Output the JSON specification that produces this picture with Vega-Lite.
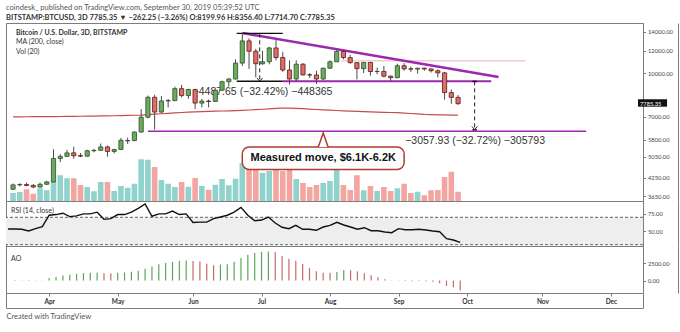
{
  "$schema": "https://vega.github.io/schema/vega-lite/v6.json",
  "padding": {"left": 4, "top": 4, "right": 0, "bottom": 0},
  "autosize": {"type": "pad"},
  "background": "white",
  "title": {
    "text": "coindesk_ published on TradingView.com, September 30, 2019 05:39:52 UTC",
    "subtitle": "BITSTAMP:BTCUSD, 3D  7785.35 ▼ −262.25 (−3.26%)  O:8199.96 H:8356.40 L:7714.70 C:7785.35",
    "anchor": "start", "frame": "group",
    "font": "Lato", "fontSize": 7.5, "fontWeight": "normal", "color": "#555",
    "subtitleFont": "Lato", "subtitleFontSize": 7.5, "subtitleFontWeight": "bold", "subtitleColor": "#333",
    "subtitlePadding": 2.5, "offset": 1
  },
  "datasets": {
    "bars": [
      {"d":"2019-03-14","o":3866,"h":4050,"l":3840,"c":4006,"v":32,"rsi":53,"ao":30,"ma":6990},
      {"d":"2019-03-17","o":4006,"h":4060,"l":3960,"c":4016,"v":36,"rsi":53,"ao":-40,"ma":6993},
      {"d":"2019-03-20","o":4016,"h":4080,"l":3960,"c":3988,"v":47,"rsi":52.5,"ao":-30,"ma":6996},
      {"d":"2019-03-23","o":3988,"h":4030,"l":3900,"c":3936,"v":29,"rsi":50,"ao":-50,"ma":6999},
      {"d":"2019-03-26","o":3936,"h":4080,"l":3920,"c":4027,"v":51,"rsi":53.5,"ao":-40,"ma":7002},
      {"d":"2019-03-29","o":4027,"h":4140,"l":4000,"c":4105,"v":43,"rsi":56.5,"ao":60,"ma":7004},
      {"d":"2019-04-01","o":4105,"h":5360,"l":4090,"c":4973,"v":80,"rsi":73,"ao":353,"ma":7006},
      {"d":"2019-04-04","o":4973,"h":5150,"l":4830,"c":5059,"v":103,"rsi":74,"ao":494,"ma":7010},
      {"d":"2019-04-07","o":5059,"h":5340,"l":5040,"c":5206,"v":91,"rsi":76,"ao":730,"ma":7015},
      {"d":"2019-04-10","o":5206,"h":5470,"l":4960,"c":5089,"v":91,"rsi":71,"ao":824,"ma":7020},
      {"d":"2019-04-13","o":5089,"h":5200,"l":5030,"c":5067,"v":64,"rsi":72,"ao":965,"ma":7025},
      {"d":"2019-04-16","o":5067,"h":5340,"l":5050,"c":5298,"v":56,"rsi":75,"ao":1059,"ma":7030},
      {"d":"2019-04-19","o":5298,"h":5380,"l":5230,"c":5314,"v":39,"rsi":75,"ao":1106,"ma":7036},
      {"d":"2019-04-22","o":5314,"h":5620,"l":5300,"c":5464,"v":76,"rsi":77.5,"ao":1120,"ma":7042},
      {"d":"2019-04-25","o":5464,"h":5530,"l":5050,"c":5268,"v":76,"rsi":67,"ao":1059,"ma":7048},
      {"d":"2019-04-28","o":5268,"h":5380,"l":5180,"c":5350,"v":40,"rsi":68,"ao":1012,"ma":7054},
      {"d":"2019-05-01","o":5350,"h":5880,"l":5330,"c":5769,"v":60,"rsi":74,"ao":1106,"ma":7060},
      {"d":"2019-05-04","o":5740,"h":5900,"l":5600,"c":5760,"v":53,"rsi":74,"ao":1153,"ma":7072},
      {"d":"2019-05-07","o":5760,"h":6200,"l":5720,"c":6174,"v":69,"rsi":77.5,"ao":1247,"ma":7084},
      {"d":"2019-05-10","o":6174,"h":7450,"l":6150,"c":6972,"v":167,"rsi":83,"ao":1388,"ma":7096},
      {"d":"2019-05-13","o":6972,"h":8320,"l":6900,"c":8205,"v":165,"rsi":89.5,"ao":1671,"ma":7120},
      {"d":"2019-05-16","o":8205,"h":8380,"l":6300,"c":7271,"v":136,"rsi":71.5,"ao":2000,"ma":7145},
      {"d":"2019-05-19","o":7271,"h":8300,"l":7200,"c":7963,"v":84,"rsi":75,"ao":2330,"ma":7170},
      {"d":"2019-05-22","o":7963,"h":8100,"l":7550,"c":7987,"v":69,"rsi":75,"ao":2518,"ma":7195},
      {"d":"2019-05-25","o":7987,"h":8950,"l":7950,"c":8805,"v":56,"rsi":79,"ao":2660,"ma":7220},
      {"d":"2019-05-28","o":8805,"h":9080,"l":8200,"c":8319,"v":76,"rsi":74,"ao":2800,"ma":7245},
      {"d":"2019-05-31","o":8319,"h":8800,"l":8100,"c":8742,"v":57,"rsi":75,"ao":2848,"ma":7265},
      {"d":"2019-06-03","o":8742,"h":8800,"l":7450,"c":7824,"v":92,"rsi":62.5,"ao":2800,"ma":7285},
      {"d":"2019-06-06","o":7824,"h":8100,"l":7550,"c":7954,"v":60,"rsi":63,"ao":2707,"ma":7300},
      {"d":"2019-06-09","o":7954,"h":8050,"l":7550,"c":7927,"v":45,"rsi":63,"ao":2377,"ma":7315},
      {"d":"2019-06-12","o":7927,"h":8700,"l":7900,"c":8693,"v":65,"rsi":68,"ao":2189,"ma":7325},
      {"d":"2019-06-15","o":8693,"h":9400,"l":8650,"c":9320,"v":88,"rsi":70.5,"ao":2283,"ma":7335},
      {"d":"2019-06-18","o":9320,"h":9600,"l":8950,"c":9527,"v":63,"rsi":73,"ao":2330,"ma":7345},
      {"d":"2019-06-21","o":9527,"h":11200,"l":9500,"c":10855,"v":89,"rsi":77.5,"ao":2680,"ma":7360},
      {"d":"2019-06-24","o":10855,"h":13880,"l":10600,"c":13016,"v":152,"rsi":84.5,"ao":3200,"ma":7375},
      {"d":"2019-06-27","o":13016,"h":13300,"l":10350,"c":11959,"v":180,"rsi":73,"ao":3672,"ma":7395},
      {"d":"2019-06-30","o":11959,"h":12200,"l":9650,"c":10801,"v":160,"rsi":65,"ao":3908,"ma":7415},
      {"d":"2019-07-03","o":10801,"h":12000,"l":10700,"c":10978,"v":113,"rsi":66,"ao":4100,"ma":7440},
      {"d":"2019-07-06","o":10978,"h":12400,"l":10750,"c":12285,"v":120,"rsi":70.4,"ao":4150,"ma":7465},
      {"d":"2019-07-09","o":12285,"h":13180,"l":11100,"c":11358,"v":160,"rsi":61.7,"ao":4050,"ma":7490},
      {"d":"2019-07-12","o":11358,"h":11900,"l":10100,"c":10256,"v":120,"rsi":55.4,"ao":3484,"ma":7505},
      {"d":"2019-07-15","o":10256,"h":11100,"l":9100,"c":9531,"v":152,"rsi":53.4,"ao":3107,"ma":7505},
      {"d":"2019-07-18","o":9531,"h":11100,"l":9300,"c":10758,"v":88,"rsi":58.3,"ao":2825,"ma":7495},
      {"d":"2019-07-21","o":10758,"h":10850,"l":9800,"c":9855,"v":72,"rsi":52.5,"ao":2354,"ma":7475},
      {"d":"2019-07-24","o":9855,"h":10000,"l":9600,"c":9847,"v":56,"rsi":52.5,"ao":1789,"ma":7450},
      {"d":"2019-07-27","o":9847,"h":10200,"l":9150,"c":9529,"v":64,"rsi":51,"ao":1318,"ma":7425},
      {"d":"2019-07-30","o":9529,"h":10450,"l":9450,"c":10410,"v":72,"rsi":55.8,"ao":1130,"ma":7405},
      {"d":"2019-08-02","o":10410,"h":11100,"l":10350,"c":10971,"v":80,"rsi":58.3,"ao":1100,"ma":7385},
      {"d":"2019-08-05","o":10971,"h":12180,"l":10950,"c":11941,"v":136,"rsi":62.7,"ao":1224,"ma":7365},
      {"d":"2019-08-08","o":11941,"h":12050,"l":11200,"c":11354,"v":64,"rsi":58.8,"ao":1507,"ma":7345},
      {"d":"2019-08-11","o":11354,"h":11600,"l":10800,"c":10895,"v":44,"rsi":55.8,"ao":1480,"ma":7330},
      {"d":"2019-08-14","o":10895,"h":10950,"l":9500,"c":10374,"v":103,"rsi":52.5,"ao":1318,"ma":7315},
      {"d":"2019-08-17","o":10374,"h":10950,"l":10000,"c":10916,"v":43,"rsi":54.8,"ao":1036,"ma":7300},
      {"d":"2019-08-20","o":10916,"h":10950,"l":9800,"c":10131,"v":60,"rsi":50.4,"ao":753,"ma":7285},
      {"d":"2019-08-23","o":10131,"h":10450,"l":9900,"c":10138,"v":40,"rsi":50.4,"ao":471,"ma":7270},
      {"d":"2019-08-26","o":10138,"h":10600,"l":9650,"c":9754,"v":56,"rsi":48.5,"ao":188,"ma":7255},
      {"d":"2019-08-29","o":9754,"h":9800,"l":9350,"c":9630,"v":40,"rsi":47.5,"ao":40,"ma":7245},
      {"d":"2019-09-01","o":9630,"h":10800,"l":9600,"c":10623,"v":51,"rsi":53.4,"ao":-40,"ma":7235},
      {"d":"2019-09-04","o":10623,"h":10850,"l":10200,"c":10353,"v":69,"rsi":51.9,"ao":-60,"ma":7210},
      {"d":"2019-09-07","o":10353,"h":10550,"l":10100,"c":10334,"v":32,"rsi":51.9,"ao":-80,"ma":7185},
      {"d":"2019-09-10","o":10334,"h":10450,"l":9950,"c":10410,"v":37,"rsi":52.5,"ao":-70,"ma":7160},
      {"d":"2019-09-13","o":10410,"h":10450,"l":10200,"c":10347,"v":23,"rsi":51.5,"ao":-90,"ma":7130},
      {"d":"2019-09-16","o":10347,"h":10380,"l":10050,"c":10198,"v":43,"rsi":50,"ao":-150,"ma":7118},
      {"d":"2019-09-19","o":10198,"h":10300,"l":9650,"c":10019,"v":44,"rsi":49,"ao":-377,"ma":7108},
      {"d":"2019-09-22","o":10019,"h":10100,"l":8050,"c":8530,"v":96,"rsi":38.8,"ao":-753,"ma":7100},
      {"d":"2019-09-25","o":8530,"h":8750,"l":7780,"c":8200,"v":117,"rsi":36.9,"ao":-942,"ma":7095},
      {"d":"2019-09-28","o":8199.96,"h":8356.4,"l":7714.7,"c":7785.35,"v":37,"rsi":33.5,"ao":-1412,"ma":7090}
    ],
    "trend": [{"d1":"2019-06-24","d2":"2019-10-16","p1":13880,"p2":9690}],
    "support": [{"d1":"2019-07-12","d2":"2019-10-12T18:00:00Z","p1":9354,"p2":9354}],
    "target": [{"d1":"2019-05-13","d2":"2019-11-24","p1":6210,"p2":6210}],
    "faint": [{"d1":"2019-08-07","d2":"2019-10-28","p1":11060,"p2":11060}],
    "blk": [
      {"d1":"2019-06-21T12:00:00Z","d2":"2019-07-12","p1":13842,"p2":13842},
      {"d1":"2019-06-21T12:00:00Z","d2":"2019-07-12","p1":9354,"p2":9354},
      {"d1":"2019-10-04T09:00:00Z","d2":"2019-10-06T09:00:00Z","p1":9345,"p2":9345},
      {"d1":"2019-10-04T09:00:00Z","d2":"2019-10-06T09:00:00Z","p1":6287,"p2":6287}
    ],
    "dash": [
      {"d":"2019-07-01T18:00:00Z","p1":13842,"p2":9354},
      {"d":"2019-10-05T09:00:00Z","p1":9345,"p2":6287}
    ],
    "arrows": [
      {"d":"2019-07-01T18:00:00Z","p":9480},
      {"d":"2019-10-05T09:00:00Z","p":6380}
    ],
    "rtext1": [{"d":"2019-07-03","p":8546,"t":"−4487.65 (−32.42%) −448365"}],
    "rtext2": [{"d":"2019-10-05T14:00:00Z","p":5724,"t":"−3057.93 (−32.72%) −305793"}],
    "callout": [{"d1":"2019-06-24","d2":"2019-09-04","p1":5462,"p2":4539,"dc":"2019-07-30","pt":5786,"pc":4982,"t":"Measured move, $6.1K-6.2K"}],
    "legend1": [{"d":"2019-03-15T07:00:00Z","p":13920,"t":"Bitcoin / U.S. Dollar, 3D, BITSTAMP"}],
    "legend2": [{"d":"2019-03-15T07:00:00Z","p":12870,"t":"MA (200, close)"},{"d":"2019-03-15T07:00:00Z","p":11890,"t":"Vol (20)"}],
    "tag": [{"d1":"2019-12-17T01:30:00Z","d2":"2019-12-30","p1":8073,"p2":7598,"dt":"2019-12-17T22:00:00Z","p":7785.35,"t":"7785.35"}]
  },
  "spacing": 0,
  "bounds": "flush",
  "resolve": {"scale": {"y": "independent"}},
  "vconcat": [
    {
      "width": 637, "height": 178,
      "layer": [
        {
          "data": {"name": "bars"},
          "mark": {"type": "bar", "size": 5.6},
          "encoding": {
            "x": {"field": "d", "type": "temporal", "scale": {"type": "utc", "domain": [{"year":2019,"month":3,"date":13,"hours":2,"utc":true},{"year":2019,"month":12,"date":17,"hours":1,"minutes":30,"utc":true}]}, "axis": null},
            "y": {"field": "v", "type": "quantitative", "scale": {"domain": [0, 712]}, "axis": {"orient": "right", "offset": 35, "labels": false, "ticks": false, "domain": true, "domainColor": "#7d7d7d", "grid": false, "title": null}},
            "color": {"condition": {"test": "datum.c >= datum.o", "value": "#8fd3cc"}, "value": "#f3a5a1"}
          }
        },
        {
          "layer": [
            {
              "data": {"name": "bars"},
              "mark": {"type": "line", "color": "#c94c4c", "strokeWidth": 1.2},
              "encoding": {
                "x": {"field": "d", "type": "temporal", "scale": {"type": "utc", "domain": [{"year":2019,"month":3,"date":13,"hours":2,"utc":true},{"year":2019,"month":12,"date":17,"hours":1,"minutes":30,"utc":true}]}, "axis": null},
                "y": {"field": "ma", "type": "quantitative", "scale": {"type": "log", "domain": [3511, 15070]},
                  "axis": {"orient": "right", "values": [3650, 4250, 5050, 5800, 7000, 10000, 12000, 14000], "format": ".2f", "tickSize": 2.5, "labelPadding": 2, "labelFontSize": 5.8, "labelFont": "Lato", "labelColor": "#444", "labelOverlap": false, "labelFlush": false, "title": null, "grid": false, "domainColor": "#7d7d7d", "tickColor": "#777"}}
              }
            },
            {
              "data": {"name": "faint"},
              "mark": {"type": "rule", "color": "#f6cccc", "strokeWidth": 1.5},
              "encoding": {
                "x": {"field": "d1", "type": "temporal"}, "x2": {"field": "d2"},
                "y": {"field": "p1", "type": "quantitative", "scale": {"type": "log", "domain": [3511, 15070]}}, "y2": {"field": "p2"}
              }
            },
            {
              "data": {"name": "target"},
              "mark": {"type": "rule", "color": "#9c27b0", "strokeWidth": 1.4},
              "encoding": {
                "x": {"field": "d1", "type": "temporal"}, "x2": {"field": "d2"},
                "y": {"field": "p1", "type": "quantitative", "scale": {"type": "log", "domain": [3511, 15070]}}, "y2": {"field": "p2"}
              }
            },
            {
              "data": {"name": "support"},
              "mark": {"type": "rule", "color": "#9c27b0", "strokeWidth": 2.2},
              "encoding": {
                "x": {"field": "d1", "type": "temporal"}, "x2": {"field": "d2"},
                "y": {"field": "p1", "type": "quantitative", "scale": {"type": "log", "domain": [3511, 15070]}}, "y2": {"field": "p2"}
              }
            },
            {
              "data": {"name": "trend"},
              "mark": {"type": "rule", "color": "#9c27b0", "strokeWidth": 2.6},
              "encoding": {
                "x": {"field": "d1", "type": "temporal"}, "x2": {"field": "d2"},
                "y": {"field": "p1", "type": "quantitative", "scale": {"type": "log", "domain": [3511, 15070]}}, "y2": {"field": "p2"}
              }
            },
            {
              "data": {"name": "blk"},
              "mark": {"type": "rule", "color": "#111", "strokeWidth": 1.4},
              "encoding": {
                "x": {"field": "d1", "type": "temporal"}, "x2": {"field": "d2"},
                "y": {"field": "p1", "type": "quantitative", "scale": {"type": "log", "domain": [3511, 15070]}}, "y2": {"field": "p2"}
              }
            },
            {
              "data": {"name": "dash"},
              "mark": {"type": "rule", "color": "#222", "strokeWidth": 1, "strokeDash": [4, 3]},
              "encoding": {
                "x": {"field": "d", "type": "temporal"},
                "y": {"field": "p1", "type": "quantitative", "scale": {"type": "log", "domain": [3511, 15070]}}, "y2": {"field": "p2"}
              }
            },
            {
              "data": {"name": "arrows"},
              "mark": {"type": "point", "shape": "M-1,-0.6L0,0.6L1,-0.6", "filled": false, "stroke": "#222", "strokeWidth": 1, "size": 30, "opacity": 1},
              "encoding": {
                "x": {"field": "d", "type": "temporal"},
                "y": {"field": "p", "type": "quantitative", "scale": {"type": "log", "domain": [3511, 15070]}}
              }
            },
            {
              "data": {"name": "rtext1"},
              "mark": {"type": "text", "font": "Liberation Sans", "fontSize": 10.5, "color": "#333", "align": "center", "baseline": "middle"},
              "encoding": {
                "x": {"field": "d", "type": "temporal"},
                "y": {"field": "p", "type": "quantitative", "scale": {"type": "log", "domain": [3511, 15070]}},
                "text": {"field": "t"}
              }
            },
            {
              "data": {"name": "bars"},
              "mark": {"type": "rule", "color": "#4a4a4a", "strokeWidth": 1},
              "encoding": {
                "x": {"field": "d", "type": "temporal"},
                "y": {"field": "l", "type": "quantitative", "scale": {"type": "log", "domain": [3511, 15070]}}, "y2": {"field": "h"}
              }
            },
            {
              "data": {"name": "bars"},
              "mark": {"type": "bar", "size": 4.2, "strokeWidth": 0.8},
              "encoding": {
                "x": {"field": "d", "type": "temporal"},
                "y": {"field": "o", "type": "quantitative", "scale": {"type": "log", "domain": [3511, 15070]}}, "y2": {"field": "c"},
                "fill": {"condition": {"test": "datum.c >= datum.o", "value": "#6aab5e"}, "value": "#e06c6c"},
                "stroke": {"condition": {"test": "datum.c >= datum.o", "value": "#2d4f2a"}, "value": "#5b1a13"}
              }
            },
            {
              "data": {"name": "rtext2"},
              "mark": {"type": "text", "font": "Liberation Sans", "fontSize": 10.5, "color": "#333", "align": "center", "baseline": "middle"},
              "encoding": {
                "x": {"field": "d", "type": "temporal"},
                "y": {"field": "p", "type": "quantitative", "scale": {"type": "log", "domain": [3511, 15070]}},
                "text": {"field": "t"}
              }
            },
            {
              "data": {"name": "legend1"},
              "mark": {"type": "text", "font": "Lato", "fontSize": 7, "fontWeight": "bold", "color": "#333", "align": "left", "baseline": "middle"},
              "encoding": {
                "x": {"field": "d", "type": "temporal"},
                "y": {"field": "p", "type": "quantitative", "scale": {"type": "log", "domain": [3511, 15070]}},
                "text": {"field": "t"}
              }
            },
            {
              "data": {"name": "legend2"},
              "mark": {"type": "text", "font": "Lato", "fontSize": 7, "color": "#333", "align": "left", "baseline": "middle"},
              "encoding": {
                "x": {"field": "d", "type": "temporal"},
                "y": {"field": "p", "type": "quantitative", "scale": {"type": "log", "domain": [3511, 15070]}},
                "text": {"field": "t"}
              }
            },
            {
              "data": {"name": "callout"},
              "mark": {"type": "rect", "fill": "white", "stroke": "#b03a2e", "strokeWidth": 1.5, "cornerRadius": 7},
              "encoding": {
                "x": {"field": "d1", "type": "temporal"}, "x2": {"field": "d2"},
                "y": {"field": "p1", "type": "quantitative", "scale": {"type": "log", "domain": [3511, 15070]}}, "y2": {"field": "p2"}
              }
            },
            {
              "data": {"name": "callout"},
              "mark": {"type": "point", "shape": "M-0.7,1L0,-1L0.7,1", "filled": true, "fill": "white", "stroke": "#b03a2e", "strokeWidth": 1.5, "size": 196, "opacity": 1},
              "encoding": {
                "x": {"field": "dc", "type": "temporal"},
                "y": {"field": "pt", "type": "quantitative", "scale": {"type": "log", "domain": [3511, 15070]}}
              }
            },
            {
              "data": {"name": "callout"},
              "mark": {"type": "text", "font": "Liberation Sans", "fontSize": 11, "fontWeight": "bold", "color": "#111", "align": "center", "baseline": "middle"},
              "encoding": {
                "x": {"field": "dc", "type": "temporal"},
                "y": {"field": "pc", "type": "quantitative", "scale": {"type": "log", "domain": [3511, 15070]}},
                "text": {"field": "t"}
              }
            },
            {
              "data": {"name": "tag"},
              "mark": {"type": "rect", "fill": "#111"},
              "encoding": {
                "x": {"field": "d1", "type": "temporal"}, "x2": {"field": "d2"},
                "y": {"field": "p1", "type": "quantitative", "scale": {"type": "log", "domain": [3511, 15070]}}, "y2": {"field": "p2"}
              }
            },
            {
              "data": {"name": "tag"},
              "mark": {"type": "text", "font": "Lato", "fontSize": 5.8, "color": "white", "align": "left", "baseline": "middle"},
              "encoding": {
                "x": {"field": "dt", "type": "temporal"},
                "y": {"field": "p", "type": "quantitative", "scale": {"type": "log", "domain": [3511, 15070]}},
                "text": {"field": "t"}
              }
            }
          ]
        }
      ],
      "resolve": {"scale": {"y": "independent"}}
    },
    {
      "width": 637, "height": 45,
      "layer": [
        {
          "data": {"values": [{"lo": 30, "hi": 70}]},
          "mark": {"type": "rect", "fill": "#eeeeee"},
          "encoding": {
            "x": {"datum": {"year":2019,"month":3,"date":13,"hours":2,"utc":true}, "type": "temporal", "scale": {"type": "utc", "domain": [{"year":2019,"month":3,"date":13,"hours":2,"utc":true},{"year":2019,"month":12,"date":17,"hours":1,"minutes":30,"utc":true}]}, "axis": null},
            "x2": {"datum": {"year":2019,"month":12,"date":17,"hours":1,"minutes":30,"utc":true}},
            "y": {"field": "lo", "type": "quantitative", "scale": {"domain": [28.1, 93.8]}, "axis": {"orient": "right", "offset": 35, "labels": false, "ticks": false, "domain": true, "domainColor": "#7d7d7d", "grid": false, "title": null}},
            "y2": {"field": "hi"}
          }
        },
        {
          "layer": [
            {
              "data": {"values": [{"lv": 70}, {"lv": 30}]},
              "mark": {"type": "rule", "color": "#666", "strokeWidth": 1, "strokeDash": [3, 2]},
              "encoding": {
                "y": {"field": "lv", "type": "quantitative", "scale": {"domain": [28.1, 93.8]},
                  "axis": {"orient": "right", "values": [50, 75], "format": ".2f", "tickSize": 2.5, "labelPadding": 2, "labelFontSize": 5.8, "labelFont": "Lato", "labelColor": "#444", "labelOverlap": false, "title": null, "grid": false, "domainColor": "#7d7d7d", "tickColor": "#777"}}
              }
            },
            {
              "data": {"name": "bars"},
              "mark": {"type": "line", "color": "#111", "strokeWidth": 1.4},
              "encoding": {
                "x": {"field": "d", "type": "temporal", "scale": {"type": "utc", "domain": [{"year":2019,"month":3,"date":13,"hours":2,"utc":true},{"year":2019,"month":12,"date":17,"hours":1,"minutes":30,"utc":true}]}, "axis": null},
                "y": {"field": "rsi", "type": "quantitative", "scale": {"domain": [28.1, 93.8]}}
              }
            },
            {
              "data": {"values": [{"d": "2019-03-15T07:00:00Z", "v": 78.8, "t": "RSI (14, close)"}]},
              "mark": {"type": "text", "font": "Lato", "fontSize": 7, "color": "#333", "align": "left", "baseline": "middle"},
              "encoding": {
                "x": {"field": "d", "type": "temporal", "axis": null},
                "y": {"field": "v", "type": "quantitative", "scale": {"domain": [28.1, 93.8]}},
                "text": {"field": "t"}
              }
            }
          ]
        }
      ],
      "resolve": {"scale": {"y": "independent"}}
    },
    {
      "width": 637, "height": 47,
      "layer": [
        {
          "data": {"values": [{"d": "2019-03-15T07:00:00Z", "v": 3068, "t": "AO"}]},
          "mark": {"type": "text", "font": "Lato", "fontSize": 7, "color": "#333", "align": "left", "baseline": "middle"},
          "encoding": {
            "x": {"field": "d", "type": "temporal", "scale": {"type": "utc", "domain": [{"year":2019,"month":3,"date":13,"hours":2,"utc":true},{"year":2019,"month":12,"date":17,"hours":1,"minutes":30,"utc":true}]}},
            "y": {"field": "v", "type": "quantitative", "scale": {"domain": [-1761, 4915]}, "axis": {"orient": "right", "offset": 35, "labels": false, "ticks": false, "domain": true, "domainColor": "#7d7d7d", "grid": false, "title": null}},
            "text": {"field": "t"}
          }
        },
        {
          "data": {"name": "bars"},
          "transform": [{"window": [{"op": "lag", "field": "ao", "as": "aoPrev"}], "sort": [{"field": "d"}]}],
          "mark": {"type": "rule", "strokeWidth": 1.2},
          "encoding": {
            "x": {"field": "d", "type": "temporal", "scale": {"type": "utc", "domain": [{"year":2019,"month":3,"date":13,"hours":2,"utc":true},{"year":2019,"month":12,"date":17,"hours":1,"minutes":30,"utc":true}]},
              "axis": {"orient": "bottom", "title": null, "grid": false, "domain": false, "tickSize": 3, "tickColor": "#777", "labelPadding": 2, "labelFontSize": 6.5, "labelFont": "Lato", "labelFontWeight": "bold", "labelColor": "#333", "labelFlush": false, "labelOverlap": false,
                "values": [{"year":2019,"month":4,"date":1,"utc":true},{"year":2019,"month":5,"date":1,"utc":true},{"year":2019,"month":6,"date":3,"utc":true},{"year":2019,"month":7,"date":3,"utc":true},{"year":2019,"month":8,"date":2,"utc":true},{"year":2019,"month":9,"date":1,"utc":true},{"year":2019,"month":10,"date":1,"utc":true},{"year":2019,"month":11,"date":3,"utc":true},{"year":2019,"month":12,"date":3,"utc":true}],
                "labelExpr": "utcFormat(datum.value, '%b')"}},
            "y": {"field": "ao", "type": "quantitative", "scale": {"domain": [-1761, 4915]},
              "axis": {"orient": "right", "values": [0, 2500], "format": ".2f", "tickSize": 2.5, "labelPadding": 2, "labelFontSize": 5.8, "labelFont": "Lato", "labelColor": "#444", "labelOverlap": false, "title": null, "grid": false, "domainColor": "#7d7d7d", "tickColor": "#777"}},
            "y2": {"datum": 0},
            "color": {"condition": {"test": "datum.aoPrev == null || datum.ao >= datum.aoPrev", "value": "#5aa55a"}, "value": "#c56a6a"}
          }
        }
      ],
      "resolve": {"scale": {"y": "independent"}}
    },
    {
      "width": 637, "height": 15,
      "data": {"values": []},
      "mark": {"type": "rule"},
      "encoding": {
        "x": {"field": "d", "type": "temporal", "scale": {"type": "utc", "domain": [{"year":2019,"month":3,"date":13,"hours":2,"utc":true},{"year":2019,"month":12,"date":17,"hours":1,"minutes":30,"utc":true}]},
          "axis": {"title": "Created with TradingView", "labels": false, "ticks": false, "domain": false, "grid": false, "titleAnchor": "start", "titleAlign": "left", "titleFont": "Lato", "titleFontSize": 7.5, "titleFontWeight": "normal", "titleColor": "#555", "titlePadding": 4}}
      }
    }
  ],
  "config": {
    "view": {"stroke": "#7d7d7d", "strokeWidth": 1},
    "axis": {"labelFont": "Lato", "grid": false},
    "text": {"font": "Lato"}
  }
}
